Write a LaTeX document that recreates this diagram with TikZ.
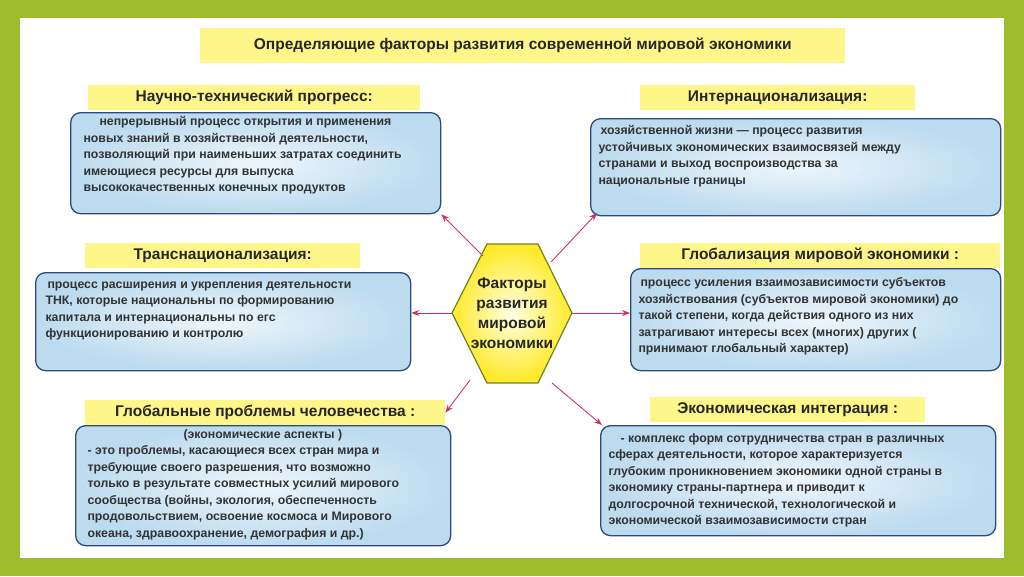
\documentclass[tikz,border=0pt]{standalone}
\usepackage{fontspec}
\setmainfont{Liberation Sans}
\usetikzlibrary{arrows.meta}
\definecolor{frame}{HTML}{9DBD2C}
\definecolor{lab}{HTML}{FFF68A}
\definecolor{bord}{HTML}{2E4A7A}
\definecolor{boxin}{HTML}{EEF6FB}
\definecolor{boxout}{HTML}{BCDBEF}
\definecolor{arr}{HTML}{D0306A}
\begin{document}
\begin{tikzpicture}[x=1pt,y=-1pt,
  labelbox/.style={fill=lab,font=\bfseries\fontsize{15.5}{18}\selectfont,text=black!85,inner sep=0pt,anchor=north west},
  infobox/.style={draw=bord,line width=1.3pt,rounded corners=10pt,inner color=boxin,outer color=boxout,anchor=north west,inner sep=0pt},
  info/.style={font=\bfseries\fontsize{12.3}{16.5}\selectfont,text=black!80,align=left,anchor=north west},
  con/.style={draw=arr,line width=0.9pt,-{Stealth[length=8pt]}}]
\fill[frame] (0,0) rectangle (1024,576);
\fill[white] (20,18) rectangle (1004,558);
\node[labelbox,minimum width=645,minimum height=35] (t) at (200,28) {Определяющие факторы развития современной мировой экономики};
% labels
\node[labelbox,minimum width=332,minimum height=25] (l1) at (88,85) {Научно-технический прогресс:};
\node[labelbox,minimum width=275,minimum height=25] (l2) at (640,85) {Интернационализация:};
\node[labelbox,minimum width=275,minimum height=25] (l3) at (85,243) {Транснационализация:};
\node[labelbox,minimum width=360,minimum height=25] (l4) at (640,243) {Глобализация мировой экономики :};
\node[labelbox,minimum width=360,minimum height=25] (l5) at (85,400) {Глобальные проблемы человечества :};
\node[labelbox,minimum width=275,minimum height=25] (l6) at (650,397) {Экономическая интеграция :};
% boxes
\node[infobox,minimum width=370,minimum height=101] (b1) at (70,112) {};
\node[infobox,minimum width=410,minimum height=97] (b2) at (590,118) {};
\node[infobox,minimum width=375,minimum height=98] (b3) at (35,272) {};
\node[infobox,minimum width=370,minimum height=102] (b4) at (630,268) {};
\node[infobox,minimum width=375,minimum height=120] (b5) at (75,425) {};
\node[infobox,minimum width=395,minimum height=110] (b6) at (600,425) {};
\node[info] at (80,113) {\hspace*{16pt}непрерывный процесс открытия и применения\\новых знаний в хозяйственной деятельности,\\позволяющий при наименьших затратах соединить\\имеющиеся ресурсы для выпуска\\высококачественных конечных продуктов};
\node[info] at (595,122) {\hspace*{2pt}хозяйственной жизни — процесс развития\\устойчивых экономических взаимосвязей между\\странами и выход воспроизводства за\\национальные границы};
\node[info] at (42,278) {\hspace*{2pt}процесс расширения и укрепления деятельности\\ТНК, которые национальны по формированию\\капитала и интернациональны по егс\\функционированию и контролю};
\node[info] at (635,274) {\hspace*{2pt}процесс усиления взаимозависимости субъектов\\хозяйствования (субъектов мировой экономики) до\\такой степени, когда действия одного из них\\затрагивают интересы всех (многих) других (\\ принимают глобальный характер)};
\node[info] at (80,426) {\hspace*{100pt}(экономические аспекты )\\\hspace*{4pt}- это проблемы, касающиеся всех стран мира и\\\hspace*{4pt}требующие своего разрешения, что возможно\\\hspace*{4pt}только в результате совместных усилий мирового\\\hspace*{4pt}сообщества (войны, экология, обеспеченность\\\hspace*{4pt}продовольствием, освоение космоса и Мирового\\\hspace*{4pt}океана, здравоохранение, демография и др.)};
\node[info] at (605,430) {\hspace*{12pt}- комплекс форм сотрудничества стран в различных\\сферах деятельности, которое характеризуется\\глубоким проникновением экономики одной страны в\\экономику страны-партнера и приводит к\\долгосрочной технической, технологической и\\экономической взаимозависимости стран};
% hexagon
\coordinate (hl) at (452,313);
\coordinate (htl) at (487,244);
\coordinate (htr) at (538,244);
\coordinate (hr) at (572,313);
\coordinate (hbr) at (538,383);
\coordinate (hbl) at (487,383);
\shade[draw=frame!70!black,line width=1.2pt,inner color=yellow!10,outer color=yellow!80!orange!85] (hl) -- (htl) -- (htr) -- (hr) -- (hbr) -- (hbl) -- cycle;
\node[font=\bfseries\fontsize{15.5}{20}\selectfont,align=center,text=black!85] (h) at (512,313) {Факторы\\развития\\мировой\\экономики};
\coordinate (a1) at (483,256);
\coordinate (a2) at (551,262);
\coordinate (a5) at (470,380);
\coordinate (a6) at (552,383);
\draw[con] (a1) -- (b1.south east);
\draw[con] (a2) -- (597,213);
\draw[con] (hl) -- (b3.east |- hl);
\draw[con] (hr) -- (b4.west |- hr);
\draw[con] (a5) -- (l5.east);
\draw[con] (a6) -- (602,425);
\end{tikzpicture}
\end{document}
